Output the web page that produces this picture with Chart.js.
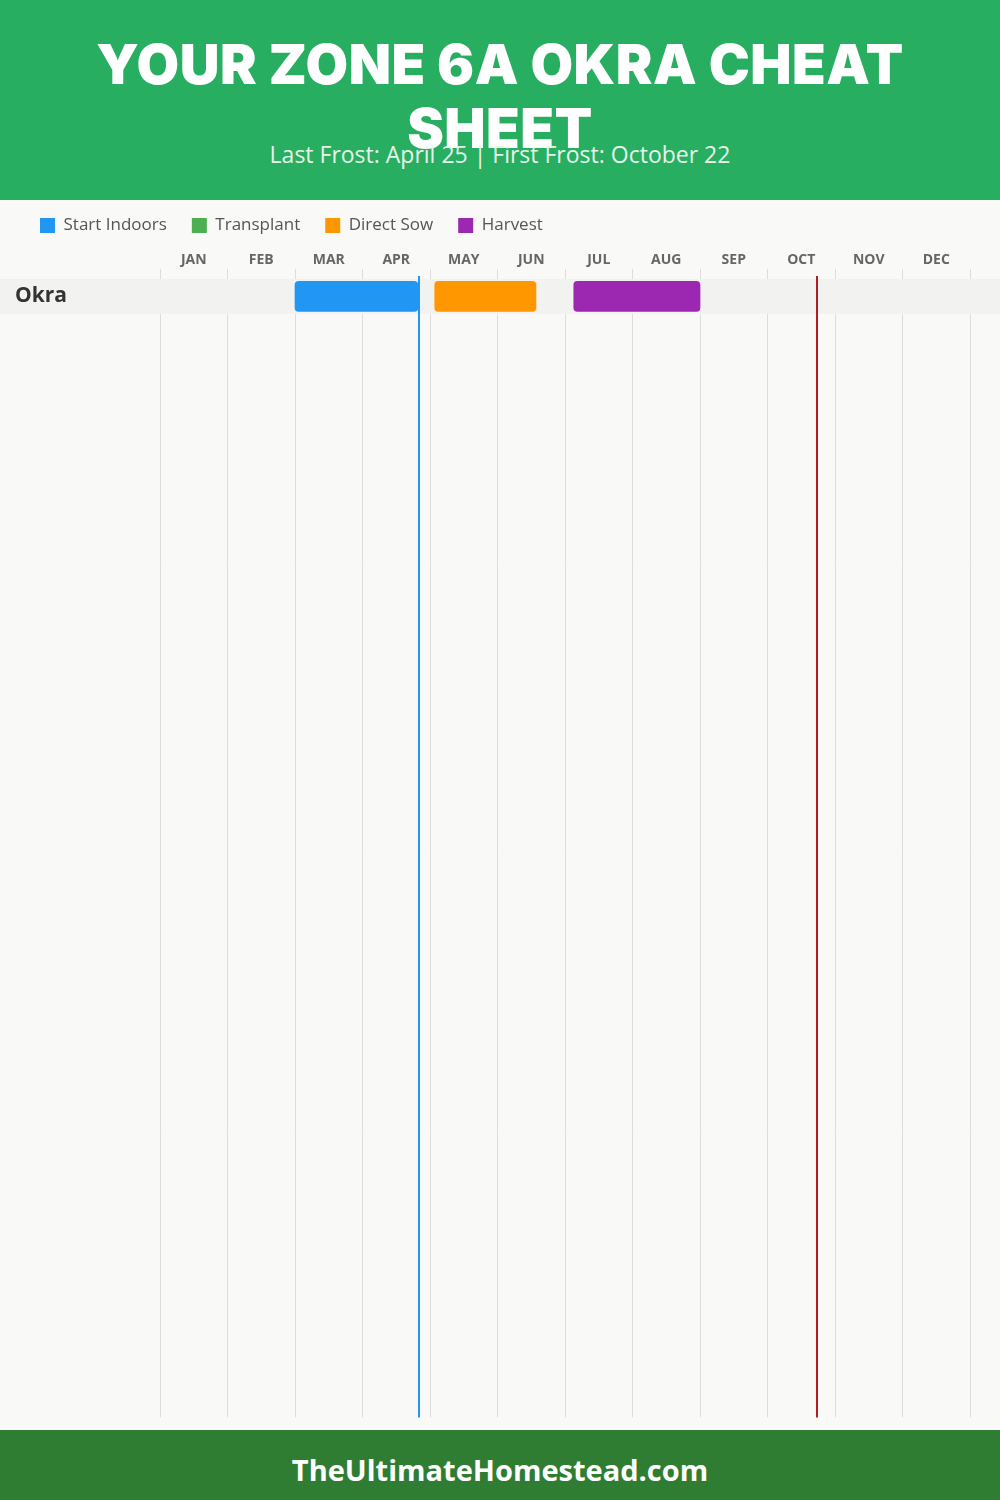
<!DOCTYPE html>
<html>
<head>
<meta charset="utf-8">
<script src="https://cdn.jsdelivr.net/npm/chart.js@4"></script>
<style>
  body { margin: 0; width: 1000px; height: 1500px; background: #f9f9f7; position: relative; overflow: hidden; font-family: "Open Sans", sans-serif; }
  #header { position: absolute; left: 0; top: 0; width: 1000px; height: 200px; background: #27ae60; z-index: 2; }
  #header h1 { position: absolute; left: 50px; width: 900px; top: 32px; margin: 0; text-align: center; color: #fff; font-family: Inter, sans-serif; font-weight: 900; font-size: 55px; line-height: 64px; letter-spacing: 0.5px; }
  #header p { position: absolute; left: 0; width: 1000px; top: 141px; margin: 0; text-align: center; color: #e6f4ea; font-size: 23px; line-height: 26px; }
  #wrap { position: absolute; left: 0; top: 192px; width: 1000px; height: 1238px; z-index: 1; }
  #footer { position: absolute; left: 0; top: 1430px; width: 1000px; height: 70px; overflow: hidden; background: #2e7d32; color: #fff; text-align: center; font-weight: 700; font-size: 29px; line-height: 80px; }
</style>
</head>
<body>
<div id="header">
  <h1>YOUR ZONE 6A OKRA CHEAT SHEET</h1>
  <p>Last Frost: April 25 | First Frost: October 22</p>
</div>
<div id="wrap"><canvas id="myChart"></canvas></div>
<div id="footer">TheUltimateHomestead.com</div>

<script>
// months run 0..12 on the x axis, values are fractions of a month
const mesi = ["JAN", "FEB", "MAR", "APR", "MAY", "JUN", "JUL", "AUG", "SEP", "OCT", "NOV", "DEC"];
const colture = ["Okra"];

const fasi = ["Start Indoors", "Transplant", "Direct Sow", "Harvest"];
const colori = ["#2196F3", "#4CAF50", "#FF9800", "#9C27B0"];

const startIndoors = [[2.0, 3.82]];
const transplant = [];
const directSow = [[4.07, 5.57]];
const harvest = [[6.13, 8.0]];

// last frost, first frost
const gelate = [3.83, 9.74];
const coloriGelate = ["#2196F3", "#B71C1C"];

const altezzaRiga = 35;
const righeVisibili = 1142 / altezzaRiga;

function righe(valori){
    return valori.map((v, i) => ({ x: v, y: i + 0.5 }));
}

const serie = [startIndoors, transplant, directSow, harvest];

const ctx = document.getElementById("myChart");

const fasciaRiga = {
    id: "fasciaRiga",
    beforeDatasetsDraw(chart){
        const c = chart.ctx;
        const y = chart.scales.y;
        c.save();
        c.fillStyle = "#f2f2f0";
        colture.forEach((nome, i) => {
            const top = y.getPixelForValue(i);
            const bottom = y.getPixelForValue(i + 1);
            c.fillRect(0, top, chart.width, bottom - top);
        });
        c.restore();
    }
};

const lineeGelo = {
    id: "lineeGelo",
    afterDatasetsDraw(chart){
        const c = chart.ctx;
        const area = chart.chartArea;
        c.save();
        gelate.forEach((g, i) => {
            const px = Math.round(chart.scales.x.getPixelForValue(g));
            c.strokeStyle = coloriGelate[i];
            c.lineWidth = 2;
            c.beginPath();
            c.moveTo(px, area.top - 3);
            c.lineTo(px, area.bottom);
            c.stroke();
        });
        c.restore();
    }
};

new Chart(ctx, {

    type: "bar",

    data: {

        datasets: fasi.map((nome, i) => ({
            label: nome,
            data: righe(serie[i]),
            backgroundColor: colori[i],
            borderRadius: 4,
            borderSkipped: false,
            barThickness: 30,
            grouped: false
        }))
    },

    options: {

        indexAxis: "y",
        responsive: true,
        maintainAspectRatio: false,
        animation: false,

        layout: {
            padding: { left: 15, right: 30, top: 0, bottom: 10 }
        },

        plugins: {
            legend: {
                position: "top",
                align: "start",
                labels: {
                    boxWidth: 15,
                    boxHeight: 15,
                    padding: 25,
                    color: "#555",
                    font: { family: "'Open Sans', sans-serif", size: 17 }
                }
            },
            tooltip: { enabled: false }
        },

        scales: {

            x: {
                type: "linear",
                position: "top",
                min: 0,
                max: 12,
                weight: 0,
                ticks: { stepSize: 1, display: false },
                grid: { color: "#dddddd", lineWidth: 1, tickLength: 10, drawTicks: true },
                border: { display: false }
            },

            xm: {
                type: "linear",
                axis: "x",
                position: "top",
                min: 0,
                max: 12,
                weight: 1,
                afterBuildTicks: scale => {
                    scale.ticks = mesi.map((m, i) => ({ value: i + 0.5 }));
                },
                afterFit: scale => {
                    scale.height = 25;
                },
                ticks: {
                    padding: 1,
                    color: "#666",
                    font: { family: "'Open Sans', sans-serif", size: 14, weight: "bold" },
                    callback: (v, i) => mesi[i]
                },
                grid: { display: false, drawTicks: false },
                border: { display: false }
            },

            y: {
                type: "linear",
                reverse: true,
                offset: false,
                bounds: "data",
                min: 0,
                max: righeVisibili,
                afterBuildTicks: scale => {
                    scale.ticks = colture.map((c, i) => ({ value: i + 0.5 }));
                },
                afterFit: scale => {
                    scale.width = 145;
                },
                ticks: {
                    z: 1,
                    crossAlign: "far",
                    padding: 0,
                    color: "#333",
                    font: { family: "'Open Sans', sans-serif", size: 21, weight: "bold" },
                    callback: (v, i) => colture[i]
                },
                grid: { display: false },
                border: { display: false }
            }
        }
    },

    plugins: [fasciaRiga, lineeGelo]
});
</script>
</body>
</html>
